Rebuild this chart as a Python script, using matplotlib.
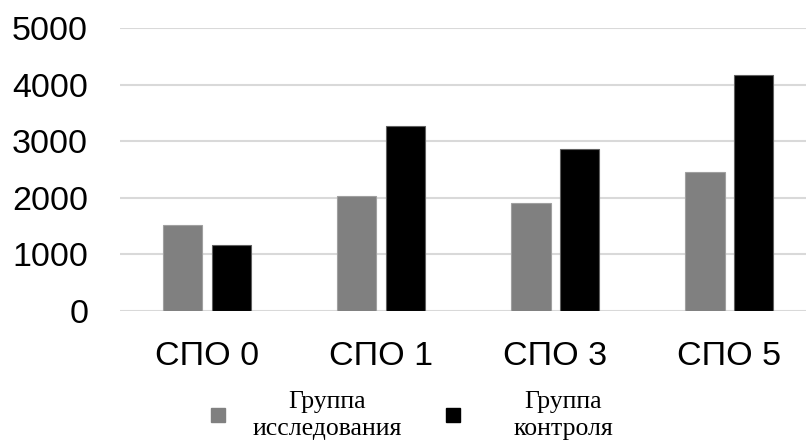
import matplotlib
matplotlib.use("Agg")
import matplotlib.pyplot as plt
from matplotlib.lines import Line2D
import numpy as np

categories = ["СПО 0", "СПО 1", "СПО 3", "СПО 5"]
study_group = [1520, 2030, 1910, 2460]
control_group = [1170, 3270, 2860, 4170]
series_labels = ["Группа\nисследования", "Группа\nконтроля"]
yticks = [0, 1000, 2000, 3000, 4000, 5000]

GRAY = "#808080"
BLACK = "#000000"

plt.rcParams["font.family"] = ["Liberation Sans", "DejaVu Sans"]

fig = plt.figure(figsize=(8.06, 4.41), dpi=100)
ax = fig.add_axes([0.149, 0.295, 0.851, 0.6415])

x = np.arange(len(categories))
w = 0.225
off = 0.14
ax.bar(x - off, study_group, w, color=GRAY, edgecolor="#a0a0a0", linewidth=0.8, zorder=3)
ax.bar(x + off, control_group, w, color=BLACK, edgecolor="#606060", linewidth=0.8, zorder=3)

ax.set_xlim(-0.5, 3.44)
ax.set_ylim(0, 5000)
ax.set_yticks(yticks)
ax.set_xticks(x)
ax.set_xticklabels(categories)
ax.tick_params(axis="y", length=0, pad=23, labelsize=24.5)
ax.tick_params(axis="x", length=0, pad=22, labelsize=24.5)
ax.grid(axis="y", color="#d9d9d9", linewidth=1.5, zorder=0)
for s in ax.spines.values():
    s.set_visible(False)

# legend: one box per entry so each can sit like the original
leg_font = {"family": ["Liberation Serif", "DejaVu Serif"], "size": 18.5}
anchors = [(0.38, 0.058), (0.657, 0.058)]
pads = [1.05, 2.05]
for lab, col, anc, pad in zip(series_labels, [GRAY, BLACK], anchors, pads):
    h = Line2D([], [], marker="s", linestyle="none", markersize=10,
               markerfacecolor=col, markeredgecolor=col)
    leg = fig.legend([h], [lab], loc="center", bbox_to_anchor=anc, frameon=False,
                     prop=leg_font, handletextpad=pad, handlelength=0.6,
                     borderpad=0, borderaxespad=0)
    for t in leg.get_texts():
        t.set_multialignment("center")
        t.set_linespacing(1.25)

fig.savefig("out.png", dpi=100)
